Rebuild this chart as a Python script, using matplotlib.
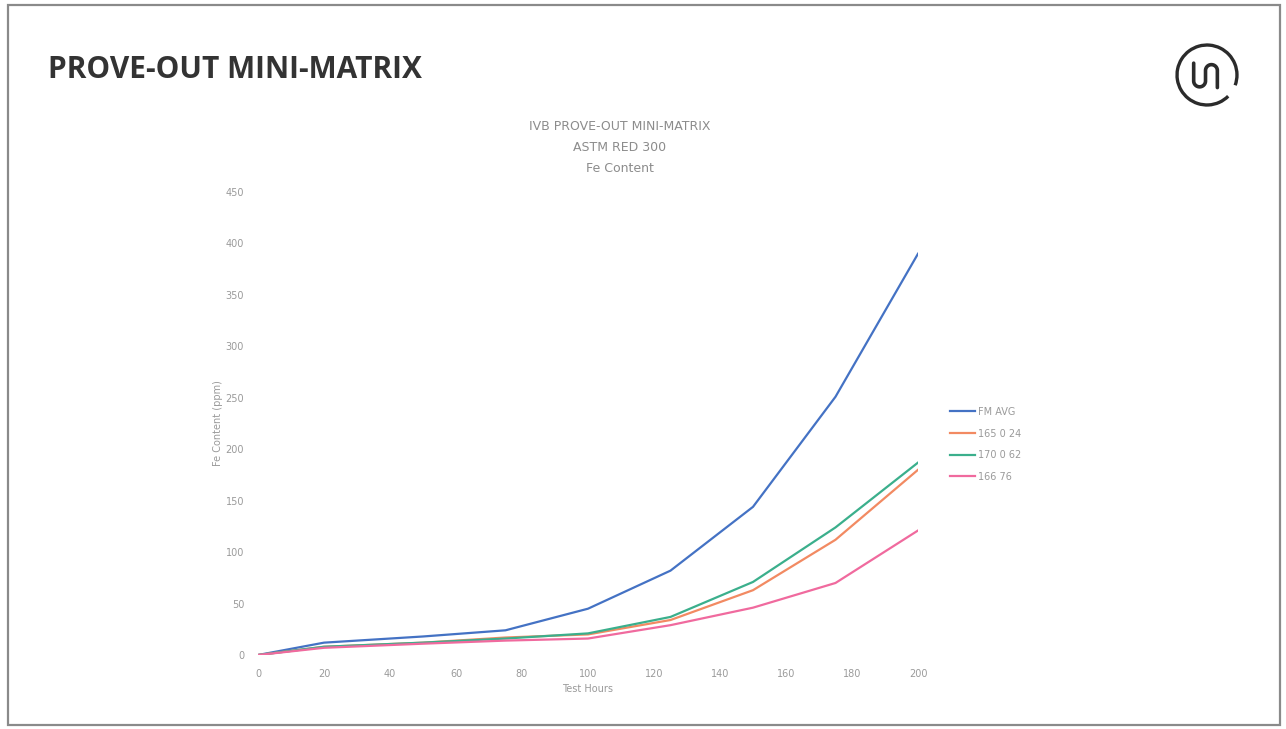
import numpy as np
import matplotlib.pyplot as plt
from matplotlib.patches import Rectangle, Arc

# Test hours sampled for each series
hours = [0, 20, 50, 75, 100, 125, 150, 175, 200]

# Fe content (ppm) per series
fm_avg = [0, 12, 18, 24, 45, 82, 144, 251, 390]
s165_024 = [0, 8, 12, 17, 20, 34, 63, 112, 180]
s170_062 = [0, 8, 12, 16, 21, 37, 71, 124, 187]
s166_76 = [0, 7, 11, 14, 16, 29, 46, 70, 121]

series_names = ["FM AVG", "165 0 24", "170 0 62", "166 76"]
series_colors = ["#4472C4", "#F28A62", "#3BAF8C", "#F06A9E"]

x_ticks = [0, 20, 40, 60, 80, 100, 120, 140, 160, 180, 200]
y_ticks = [0, 50, 100, 150, 200, 250, 300, 350, 400, 450]

W, H = 1286, 729
fig = plt.figure(figsize=(W / 100, H / 100), dpi=100)
fig.patch.set_facecolor("white")

# Slide frame
frame = Rectangle((8 / W, 4 / H), 1272 / W, 720 / H, transform=fig.transFigure,
                  fill=False, edgecolor="#8a8a8a", linewidth=1.6)
fig.add_artist(frame)

# Slide heading
fig.text(48 / W, 1 - 70 / H, "PROVE-OUT MINI-MATRIX", fontsize=21.5, fontweight="bold",
         color="#333333", ha="left", va="center", family="Open Sans")

# Logo mark: open ring with a wave inside
logo_ax = fig.add_axes([1170 / W, 1 - 112 / H, 74 / W, 74 / H])
logo_ax.set_xlim(-1, 1)
logo_ax.set_ylim(-1, 1)
logo_ax.set_aspect("equal")
logo_ax.axis("off")
ink = "#2b2b2b"
logo_ax.add_patch(Arc((0, 0), 1.62, 1.62, theta1=-20, theta2=315, color=ink, lw=2.4))
r_u, r_n = 0.16, 0.16
xl, xm, xr = -0.36, -0.04, 0.28
t = np.linspace(np.pi, 2 * np.pi, 30)
u_x = (xl + xm) / 2 + r_u * np.cos(t)
u_y = -0.16 + r_u * np.sin(t)
t2 = np.linspace(np.pi, 0, 30)
n_x = (xm + xr) / 2 + r_n * np.cos(t2)
n_y = 0.12 + r_n * np.sin(t2)
wave_x = np.concatenate([[xl], u_x, n_x, [xr]])
wave_y = np.concatenate([[0.32], u_y, n_y, [-0.34]])
logo_ax.plot(wave_x, wave_y, color=ink, lw=2.6, solid_capstyle="round")

# Chart area
x0, x1 = 258, 918
y0, y1 = 655, 192
ax = fig.add_axes([x0 / W, 1 - y0 / H, (x1 - x0) / W, (y0 - y1) / H])
for name, vals, col in zip(series_names, [fm_avg, s165_024, s170_062, s166_76], series_colors):
    ax.plot(hours, vals, color=col, lw=1.6, label=name)

ax.set_xlim(0, 200)
ax.set_ylim(0, 450)
ax.set_xticks(x_ticks)
ax.set_yticks(y_ticks)
ax.tick_params(axis="both", length=0, labelsize=7, labelcolor="#9a9a9a", pad=10)
for s in ax.spines.values():
    s.set_visible(False)
ax.set_xlabel("Test Hours", fontsize=7, color="#9a9a9a", labelpad=4)
ax.set_ylabel("Fe Content (ppm)", fontsize=7, color="#9a9a9a", labelpad=2)

# Chart title
for i, line in enumerate(["IVB PROVE-OUT MINI-MATRIX", "ASTM RED 300", "Fe Content"]):
    fig.text(620 / W, 1 - (127 + i * 20.5) / H, line, fontsize=9, color="#8c8c8c",
             ha="center", va="center")

leg = ax.legend(loc="center left", bbox_to_anchor=(1.035, 0.455), frameon=False,
                fontsize=7, handlelength=2.6, handletextpad=0.3, labelspacing=1.2,
                labelcolor="#9a9a9a")

fig.savefig("out.png", dpi=100, facecolor="white")
